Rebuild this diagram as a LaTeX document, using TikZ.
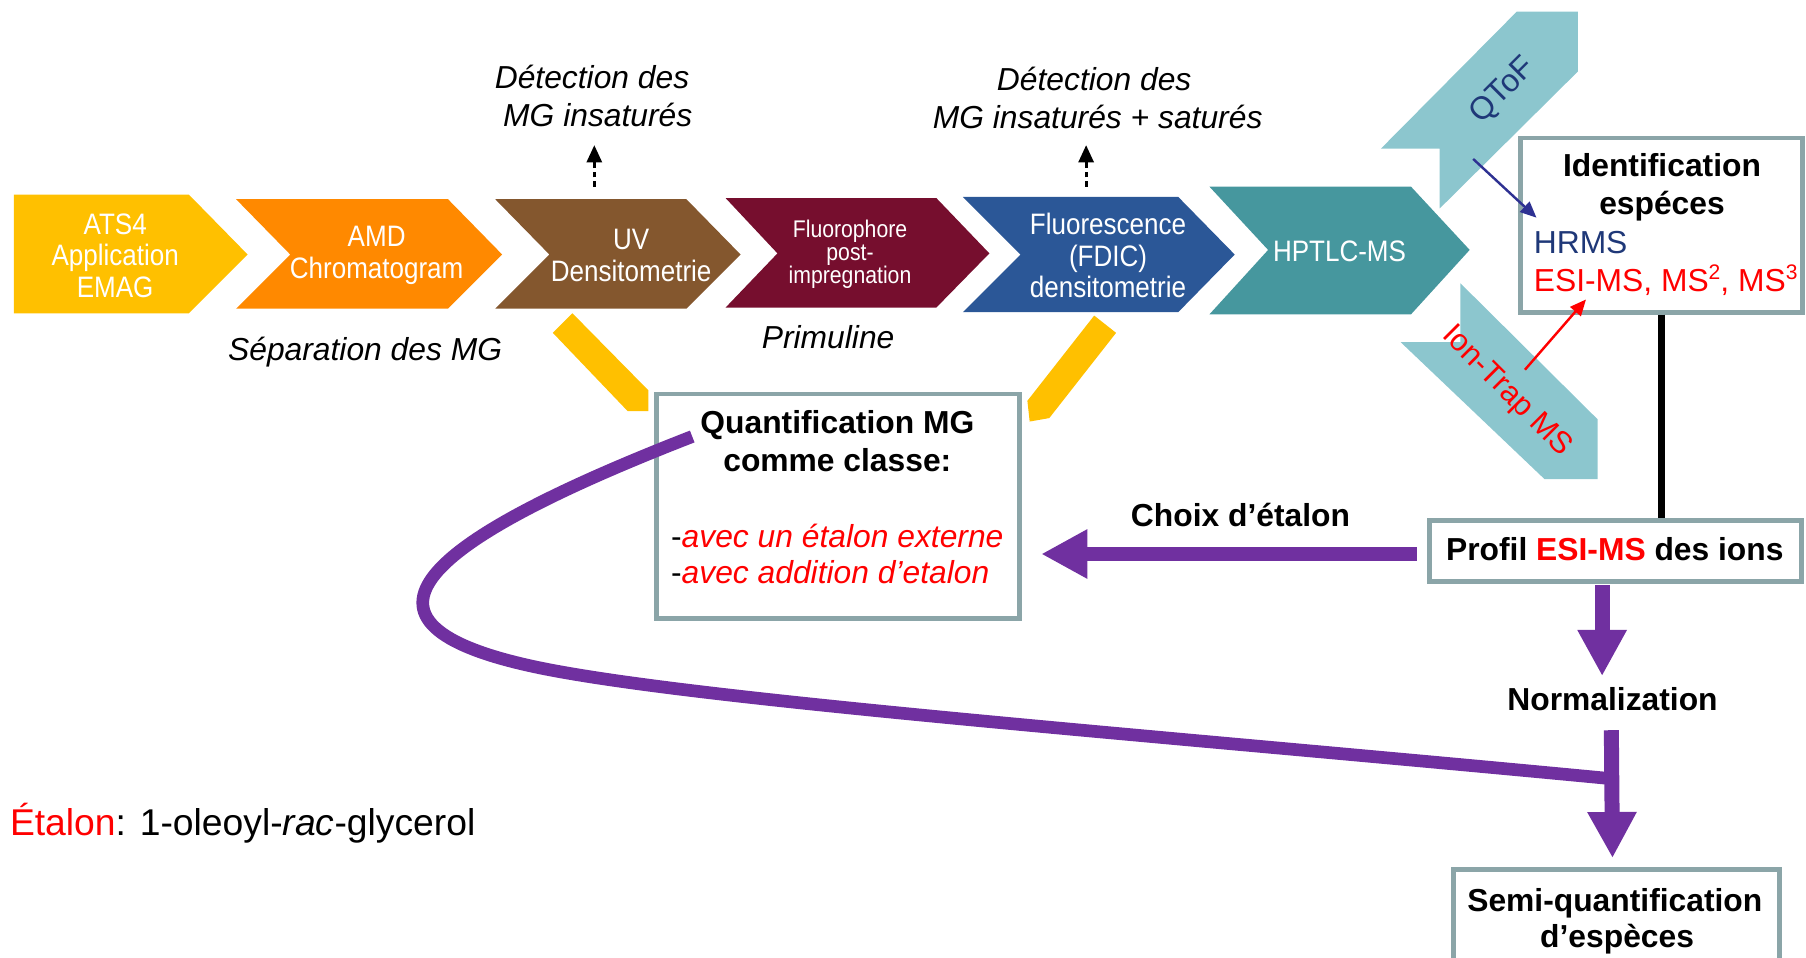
\documentclass[tikz,border=0pt]{standalone}
\usepackage{fontspec}
\setmainfont{Liberation Sans}
\newfontfamily\narrowsf[FakeStretch=0.88]{Liberation Sans}
\usetikzlibrary{arrows.meta,positioning}
\definecolor{atsyellow}{RGB}{255,192,0}
\definecolor{amdorange}{RGB}{255,137,0}
\definecolor{uvbrown}{RGB}{132,87,46}
\definecolor{primmaroon}{RGB}{118,14,46}
\definecolor{fdicblue}{RGB}{43,87,151}
\definecolor{msteal}{RGB}{70,151,158}
\definecolor{lightteal}{RGB}{140,198,206}
\definecolor{boxgrey}{RGB}{139,165,168}
\definecolor{mgpurple}{RGB}{112,48,160}
\definecolor{hrmsblue}{RGB}{31,56,120}
\definecolor{qtofarrow}{RGB}{46,49,146}
\newcommand{\msup}[1]{\raisebox{0.38em}{\fontsize{5.2}{5.2}\selectfont #1}}
\tikzset
{
    chevlabel/.style = {white, align=center, inner sep=0pt, font=\narrowsf\fontsize{7.3}{7.8}\selectfont},
    smalllabel/.style = {white, align=center, inner sep=0pt, font=\narrowsf\fontsize{5.95}{5.7}\selectfont},
    infobox/.style = {draw=boxgrey, line width=1.15pt, fill=white, inner sep=0pt},
    headtext/.style = {anchor=base, inner sep=0pt, font=\bfseries\fontsize{7.85}{9.4}\selectfont},
    bodytext/.style = {anchor=base west, inner sep=0pt, font=\fontsize{7.85}{9.4}\selectfont},
    notetext/.style = {anchor=base, inner sep=0pt, font=\itshape\fontsize{7.85}{9.4}\selectfont},
    flowarrow/.style = {mgpurple, line width=0.13cm, -{Triangle[length=0.4cm,width=0.4cm]}},
    detectarrow/.style = {black, line width=0.75pt, dash pattern=on 0.05cm off 0.03cm, -{Triangle[length=0.15cm,width=0.13cm]}},
    thinarrow/.style = {line width=0.6pt, -{Triangle[length=0.14cm,width=0.12cm]}}
}
\begin{document}
\begin{tikzpicture}[x=0.01cm, y=-0.01cm]
    \useasboundingbox (0,0) rectangle (1568,831);
    \clip (0,0) rectangle (1568,831);
    % ------------------------------------------------ workflow chevrons
    \fill[atsyellow] (12,169) -- (164,169) -- (215,221) -- (164,272) -- (12,272) -- cycle;
    \fill[amdorange] (205,173) -- (389,173) -- (436,221) -- (389,268) -- (205,268) -- (252,221) -- cycle;
    \fill[uvbrown] (430,173) -- (596,173) -- (643,221) -- (596,268) -- (430,268) -- (477,221) -- cycle;
    \fill[primmaroon] (630,172) -- (813,172) -- (859,220) -- (813,267) -- (630,267) -- (675,220) -- cycle;
    \fill[fdicblue] (836,171) -- (1023,171) -- (1072,221) -- (1023,271) -- (836,271) -- (886,221) -- cycle;
    \fill[msteal] (1050,162) -- (1225,162) -- (1276,217) -- (1225,273) -- (1050,273) -- (1101,217) -- cycle;
    \node[chevlabel] (ats) at (100,222) {ATS4\\Application\\EMAG};
    \node[chevlabel] (amd) at (327,222) {AMD\\Chromatogram};
    \node[chevlabel] (uv) at (548,222) {UV\\Densitometrie};
    \node[smalllabel] (fluo) at (738,221) {Fluorophore\\post-\\impregnation};
    \node[chevlabel] (fdic) at (962,222) {Fluorescence\\(FDIC)\\densitometrie};
    \node[chevlabel] (hptlc) at (1163,218) {HPTLC-MS};
    % ------------------------------------------------ MS branches
    \fill[lightteal] (1317,10) -- (1370,10) -- (1370,62) -- (1250,181) -- (1250,129) -- (1199,129) -- cycle;
    \fill[lightteal] (1268,246) -- (1387,364) -- (1387,416) -- (1341,416) -- (1216,297) -- (1268,297) -- cycle;
    \node[rotate=45, inner sep=0pt, text=hrmsblue, font=\fontsize{7.85}{9.4}\selectfont] (qtof) at (1305,79) {QToF};
    \node[rotate=-45, inner sep=0pt, text=red, font=\fontsize{7.6}{9.4}\selectfont] (iontrap) at (1308,340) {Ion-Trap MS};
    % ------------------------------------------------ yellow pointers
    \fill[atsyellow] (497,272) -- (563,339) -- (563,357) -- (545,357) -- (480,289) -- cycle;
    \fill[atsyellow] (950,274) -- (969,289) -- (911,363) -- (894,366) -- (892,348) -- cycle;
    % ------------------------------------------------ notes
    \node[notetext] (uvNoteA) at (514,77) {Détection des};
    \node[notetext] (uvNoteB) at (519,110) {MG insaturés};
    \node[notetext] (fdicNoteA) at (950,79) {Détection des};
    \node[notetext] (fdicNoteB) at (953,112) {MG insaturés + saturés};
    \node[notetext] (sep) at (317,313) {Séparation des MG};
    \node[notetext] (prim) at (719,303) {Primuline};
    \coordinate (uvTop) at (516,162);
    \coordinate (uvTip) at (516,126);
    \coordinate (fdicTop) at (943,162);
    \coordinate (fdicTip) at (943,126);
    \draw[detectarrow] (uvTop) -- (uvTip);
    \draw[detectarrow] (fdicTop) -- (fdicTip);
    % ------------------------------------------------ boxes
    \node[infobox, minimum width=2.45cm, minimum height=1.51cm] (ident) at (1442.5,195.5) {};
    \node[infobox, minimum width=3.15cm, minimum height=1.95cm] (quant) at (727.5,439.5) {};
    \node[infobox, minimum width=3.23cm, minimum height=0.53cm] (profil) at (1402.5,478.5) {};
    \node[infobox, minimum width=2.83cm, minimum height=1.15cm] (semi) at (1403.5,812.5) {};
    \node[headtext] (identA) at (1443,153) {Identification};
    \node[headtext] (identB) at (1443,186) {espéces};
    \node[bodytext, text=hrmsblue] (hrms) at (1331,220) {HRMS};
    \node[bodytext, text=red] (esims) at (1331,253) {ESI-MS, MS\msup{2}, MS\msup{3}};
    \node[headtext] (quantA) at (727,376) {Quantification MG};
    \node[headtext] (quantB) at (727,409) {comme classe:};
    \node[bodytext] (quantC) at (582,475) {-\textcolor{red}{\itshape avec un étalon externe}};
    \node[bodytext] (quantD) at (582,507) {-\textcolor{red}{\itshape avec addition d’etalon}};
    \node[headtext] (profilText) at (1402,487) {Profil \textcolor{red}{ESI-MS} des ions};
    \node[headtext] (semiA) at (1402,791) {Semi-quantification};
    \node[headtext] (semiB) at (1404,823) {d’espèces};
    \node[headtext] (choix) at (1077,457) {Choix d’étalon};
    \node[headtext] (norm) at (1400,617) {Normalization};
    \node[bodytext, font=\fontsize{9.2}{11}\selectfont] (etalon) at (8,725) {\textcolor{red}{Étalon}: 1-oleoyl-\textit{rac}-glycerol};
    % ------------------------------------------------ connectors
    \draw[line width=0.06cm] (ident.south) -- (ident.south |- profil.north);
    \coordinate (qtofFoot) at (1279,138);
    \coordinate (hrmsIn) at (1334,189);
    \coordinate (trapFoot) at (1324,321);
    \coordinate (esiIn) at (1377,260);
    \draw[thinarrow, qtofarrow] (qtofFoot) -- (hrmsIn);
    \draw[thinarrow, red] (trapFoot) -- (esiIn);
    \coordinate (choixStart) at (1230,481);
    \coordinate (choixTip) at (904,481);
    \draw[flowarrow] (choixStart) -- (choixTip);
    \coordinate (normStart) at (1391,508);
    \coordinate (normTip) at (1391,587);
    \draw[flowarrow] (normStart) -- (normTip);
    \coordinate (curveStart) at (601,379);
    \coordinate (curveEnd) at (1398,676);
    \draw[mgpurple, line width=0.11cm] (curveStart) .. controls (380,465) and (280,538) .. (460,578)
        .. controls (590,607) and (1000,638) .. (curveEnd);
    \coordinate (semiStart) at (1399,634);
    \coordinate (semiTip) at (1400,745);
    \draw[flowarrow] (semiStart) -- (semiTip);
\end{tikzpicture}
\end{document}
